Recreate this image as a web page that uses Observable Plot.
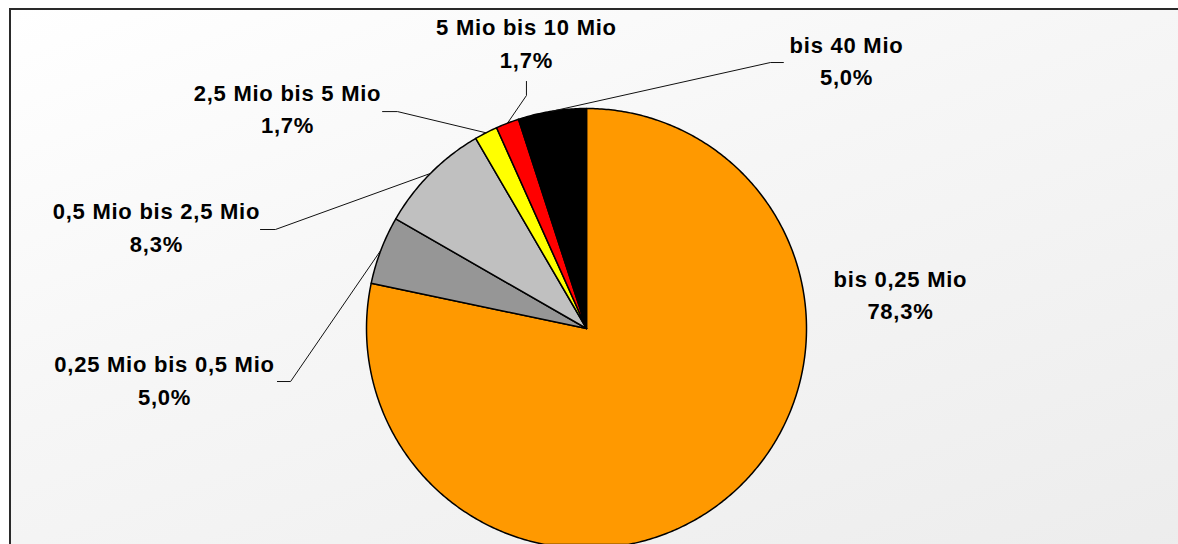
<!DOCTYPE html>
<html>
<head>
<meta charset="utf-8">
<script src="https://cdn.jsdelivr.net/npm/d3@7"></script>
<script src="https://cdn.jsdelivr.net/npm/@observablehq/plot@0.6"></script>
<style>
  html, body { margin: 0; padding: 0; overflow: hidden; background: #ffffff; }
  #frame {
    position: fixed; left: 9px; top: 8px; width: 1250px; height: 600px;
    border-left: 2px solid #2a2a2a; border-top: 2px solid #2a2a2a; box-sizing: border-box;
    background: linear-gradient(160deg, #ffffff 0%, #f6f6f6 40%, #ebebeb 100%);
  }
  #chart { position: fixed; left: 0; top: 0; }
  #chart svg { display: block; }
  #chart svg text { letter-spacing: 0.75px; }
</style>
</head>
<body>
<div id="frame"></div>
<div id="chart"></div>
<script>
// ---- data ----
const categories = ["bis 0,25 Mio", "0,25 Mio bis 0,5 Mio", "0,5 Mio bis 2,5 Mio", "2,5 Mio bis 5 Mio", "5 Mio bis 10 Mio", "bis 40 Mio"];
const shares = [78.3, 5.0, 8.3, 1.7, 1.7, 5.0];
const colors = ["#ff9900", "#969696", "#c0c0c0", "#ffff00", "#ff0000", "#000000"];

// ---- layout (in pie-radius units, pie centre at 0,0, y up) ----
const labelPos = [[1.427, 0.163], [-1.918, -0.225], [-1.955, 0.470], [-1.359, 1.009], [-0.273, 1.307], [1.182, 1.227]];
const leaderPts = [null, [[-1.345, -0.241], [-1.405, -0.241]], [[-1.414, 0.45], [-1.482, 0.45]], [[-0.859, 0.986], [-0.927, 0.986]], [[-0.273, 1.059], [-0.273, 1.123]], [[0.836, 1.209], [0.895, 1.209]]];
const view = [[-586 / 220, -216 / 220], [592 / 220, 328 / 220]];

const total = d3.sum(shares);
let acc = 0;
const slices = categories.map((c, i) => {
  const a0 = acc / total * 2 * Math.PI;
  acc += shares[i];
  const a1 = acc / total * 2 * Math.PI;
  const n = Math.max(4, Math.ceil((a1 - a0) / 0.01));
  const ring = [[0, 0]];
  for (let k = 0; k <= n; k++) {
    const a = a0 + (a1 - a0) * k / n;
    ring.push([Math.sin(a), Math.cos(a)]);
  }
  ring.push([0, 0]);
  return {type: "Feature", properties: {cat: c, mid: (a0 + a1) / 2}, geometry: {type: "Polygon", coordinates: [ring]}};
});

const leaders = slices.map((s, i) => {
  if (!leaderPts[i]) return null;
  const m = s.properties.mid;
  return {type: "Feature", properties: {cat: s.properties.cat}, geometry: {type: "LineString", coordinates: [[Math.sin(m), Math.cos(m)], ...leaderPts[i]]}};
}).filter(d => d);

const labels = categories.map((c, i) => ({
  x: labelPos[i][0], y: labelPos[i][1],
  text: c + "\n" + shares[i].toFixed(1).replace(".", ",") + "%"
}));

const chart = Plot.plot({
  width: 1178,
  height: 544,
  margin: 0,
  style: {background: "transparent", fontFamily: "'Liberation Sans', Arial, sans-serif"},
  projection: {type: "reflect-y", domain: {type: "MultiPoint", coordinates: view}, inset: 0},
  color: {domain: categories, range: colors},
  marks: [
    Plot.geo(slices, {fill: d => d.properties.cat, stroke: "#000", strokeWidth: 1.5, strokeLinejoin: "round"}),
    Plot.geo(leaders, {stroke: "#111", strokeWidth: 1, fill: "none"}),
    Plot.text(labels, {x: "x", y: "y", text: "text", fontSize: 22, fontWeight: "bold", fill: "#000", lineHeight: 1.48, textAnchor: "middle", lineAnchor: "middle"})
  ]
});
document.getElementById("chart").appendChild(chart);
</script>
</body>
</html>
